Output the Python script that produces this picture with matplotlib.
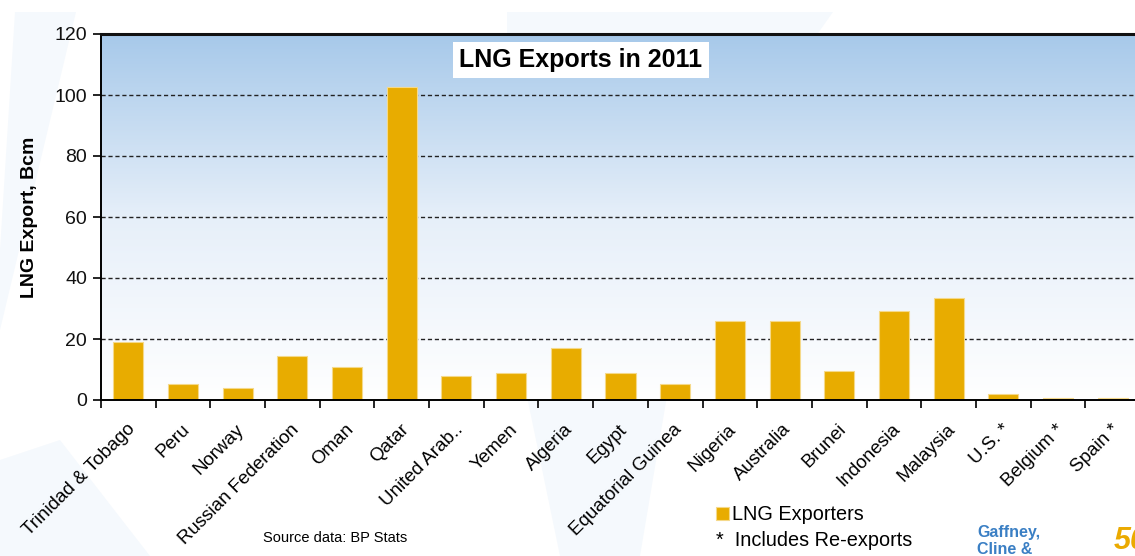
import matplotlib
matplotlib.use("Agg")
import matplotlib.pyplot as plt
import numpy as np
from matplotlib.patches import Polygon
from matplotlib.colors import LinearSegmentedColormap
import matplotlib.transforms as mtransforms

categories = ["Trinidad & Tobago", "Peru", "Norway", "Russian Federation", "Oman",
              "Qatar", "United Arab..", "Yemen", "Algeria", "Egypt",
              "Equatorial Guinea", "Nigeria", "Australia", "Brunei", "Indonesia",
              "Malaysia", "U.S. *", "Belgium *", "Spain *"]
exports_bcm = [18.9, 5.1, 3.9, 14.4, 10.9, 102.6, 7.9, 9.0, 17.1, 8.7,
               5.2, 25.9, 26.0, 9.4, 29.2, 33.3, 1.9, 0.5, 0.8]
y_ticks = [0, 20, 40, 60, 80, 100, 120]

plt.rcParams['font.family'] = ['Liberation Sans', 'DejaVu Sans']

W, H = 1135, 556
fig = plt.figure(figsize=(W / 100, H / 100), dpi=100)
fig.patch.set_facecolor("white")

# faint slide background shapes
bgc = "#f5f9fd"
shapes = [
    [(15, 12), (76, 12), (0, 330), (0, 250)],
    [(0, 460), (0, 556), (150, 556), (60, 440)],
    [(507, 12), (833, 12), (700, 200), (640, 556), (560, 556), (507, 300)],
]
for pts in shapes:
    fig.patches.append(Polygon([(px / W, 1 - py / H) for px, py in pts], closed=True,
                               transform=fig.transFigure, facecolor=bgc,
                               edgecolor="none", zorder=-10))

ax_left, ax_right, ax_top, ax_bot = 101, 1140, 34, 400
ax = fig.add_axes([ax_left / W, 1 - ax_bot / H, (ax_right - ax_left) / W, (ax_bot - ax_top) / H])
ax.set_zorder(1)

x = np.arange(len(categories))
ax.set_xlim(-0.5, len(categories) - 0.5)
ax.set_ylim(0, 120)

# gradient background
cmap = LinearSegmentedColormap.from_list("bg", ["#ffffff", "#e6eff9", "#a7c9ea"])
grad = np.linspace(0, 1, 256).reshape(-1, 1)
ax.imshow(grad, extent=[0, 1, 0, 1], transform=ax.transAxes, aspect="auto",
          origin="lower", cmap=cmap, zorder=0)

for yv in y_ticks[1:-1]:
    ax.axhline(yv, color="#222222", linestyle=(0, (3, 2)), linewidth=1.0, zorder=1)

bars = ax.bar(x, exports_bcm, width=0.55, color="#E8AC00", edgecolor="#F5D98A",
              linewidth=0.8, zorder=2, label="LNG Exporters")

for side in ["left", "bottom"]:
    ax.spines[side].set_linewidth(1.4)
    ax.spines[side].set_color("black")
ax.spines["top"].set_linewidth(2.2)
ax.spines["top"].set_color("#111111")
ax.spines["right"].set_visible(False)

ax.set_yticks(y_ticks)
ax.set_yticklabels([str(v) for v in y_ticks], fontsize=14, color="#111111")
ax.tick_params(axis="y", direction="out", length=6, width=1.2, pad=4)

ax.set_xticks(x)
ax.set_xticklabels(categories, rotation=45, ha="right", rotation_mode="anchor", fontsize=13.5)
ax.tick_params(axis="x", which="major", length=0, pad=15)
offset = mtransforms.ScaledTranslation(-2 / 100, 0, fig.dpi_scale_trans)
for lab in ax.get_xticklabels():
    lab.set_transform(lab.get_transform() + offset)
ax.set_xticks(np.arange(len(categories) + 1) - 0.5, minor=True)
ax.tick_params(axis="x", which="minor", direction="out", length=6, width=1.2)

ax.set_ylabel("LNG Export, Bcm", fontsize=14, fontweight="bold", labelpad=12)

fig.text(581 / W, 1 - 60 / H, "LNG Exports in 2011", ha="center", va="center",
         fontsize=18, fontweight="bold",
         bbox=dict(boxstyle="square,pad=0.25", facecolor="white", edgecolor="none"))

fig.legend([bars], ["LNG Exporters"], loc="center left",
           bbox_to_anchor=(716 / W, 1 - 515 / H), frameon=False, fontsize=14.3,
           handlelength=0.65, handleheight=0.65, handletextpad=0.15, borderpad=0, borderaxespad=0)
fig.text(716 / W, 1 - 541 / H, "*  Includes Re-exports", ha="left", va="center", fontsize=14.3)

fig.text(335 / W, 1 - 538 / H, "Source data: BP Stats", ha="center", va="center", fontsize=10.5)

fig.text(977 / W, 1 - 533 / H, "Gaffney,", ha="left", va="center", fontsize=11.5,
         fontweight="bold", color="#3a7fc4")
fig.text(977 / W, 1 - 549 / H, "Cline &", ha="left", va="center", fontsize=11.5,
         fontweight="bold", color="#3a7fc4")
fig.text(1114 / W, 1 - 541 / H, "50", ha="left", va="center", fontsize=22,
         fontweight="bold", style="italic", color="#EBAA00")

fig.savefig("out.png", dpi=100, facecolor=fig.get_facecolor())
